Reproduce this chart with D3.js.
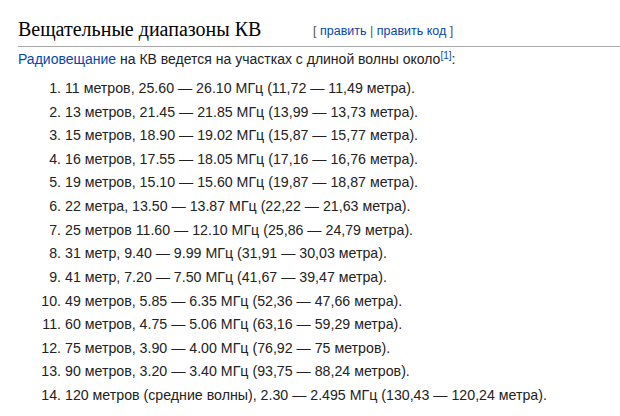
<!DOCTYPE html>
<html><head><meta charset="utf-8">
<script src="https://cdn.jsdelivr.net/npm/d3@7"></script>
<style>body{margin:0;background:#fff}</style></head>
<body><svg id="c" width="620" height="416"></svg>
<script>
const title = "Вещательные диапазоны КВ";
const editLinks = ["править", "править код"];
const introLink = "Радиовещание";
const introText = " на КВ ведется на участках с длиной волны около";
const items = [
"11 метров, 25.60 — 26.10 МГц (11,72 — 11,49 метра).",
"13 метров, 21.45 — 21.85 МГц (13,99 — 13,73 метра).",
"15 метров, 18.90 — 19.02 МГц (15,87 — 15,77 метра).",
"16 метров, 17.55 — 18.05 МГц (17,16 — 16,76 метра).",
"19 метров, 15.10 — 15.60 МГц (19,87 — 18,87 метра).",
"22 метра, 13.50 — 13.87 МГц (22,22 — 21,63 метра).",
"25 метров 11.60 — 12.10 МГц (25,86 — 24,79 метра).",
"31 метр, 9.40 — 9.99 МГц (31,91 — 30,03 метра).",
"41 метр, 7.20 — 7.50 МГц (41,67 — 39,47 метра).",
"49 метров, 5.85 — 6.35 МГц (52,36 — 47,66 метра).",
"60 метров, 4.75 — 5.06 МГц (63,16 — 59,29 метра).",
"75 метров, 3.90 — 4.00 МГц (76,92 — 75 метров).",
"90 метров, 3.20 — 3.40 МГц (93,75 — 88,24 метров).",
"120 метров (средние волны), 2.30 — 2.495 МГц (130,43 — 120,24 метра)."
];
const svg = d3.select("#c");
const sans = "'Liberation Sans', Arial, sans-serif";
const link = "#0645ad";
const txt = "#222";
const t = svg.append("text").attr("x",18).attr("y",36).attr("font-family","'Liberation Serif','Times New Roman',serif").attr("font-size",20).attr("fill","#000").text(title);
const tw = t.node().getComputedTextLength();
const e = svg.append("text").attr("x",313).attr("y",35).attr("font-family",sans).attr("font-size",12.5).attr("fill","#555");
e.append("tspan").text("[ ");
e.append("tspan").attr("fill",link).text(editLinks[0]);
e.append("tspan").text(" | ");
e.append("tspan").attr("fill",link).text(editLinks[1]);
e.append("tspan").text(" ]");
svg.append("line").attr("x1",18).attr("x2",620).attr("y1",46.5).attr("y2",46.5).attr("stroke","#aaa");
const intro = svg.append("text").attr("x",18).attr("y",64).attr("font-family",sans).attr("font-size",14).attr("fill",txt);
intro.append("tspan").attr("fill",link).text(introLink);
intro.append("tspan").text(introText);
intro.append("tspan").attr("fill",link).attr("font-size",10).attr("dy",-5).text("[1]");
intro.append("tspan").attr("dy",5).text(":");
const y = d3.scaleLinear().domain([0, items.length-1]).range([93, 400]);
const g = svg.append("g").attr("font-family",sans).attr("font-size",14.2).attr("fill",txt);
g.selectAll("text.n").data(items).join("text").attr("class","n").attr("x",61).attr("y",(d,i)=>y(i)).attr("text-anchor","end").text((d,i)=>(i+1)+".");
g.selectAll("text.t").data(items).join("text").attr("class","t").attr("x",65).attr("y",(d,i)=>y(i)).text(d=>d);
</script></body></html>
